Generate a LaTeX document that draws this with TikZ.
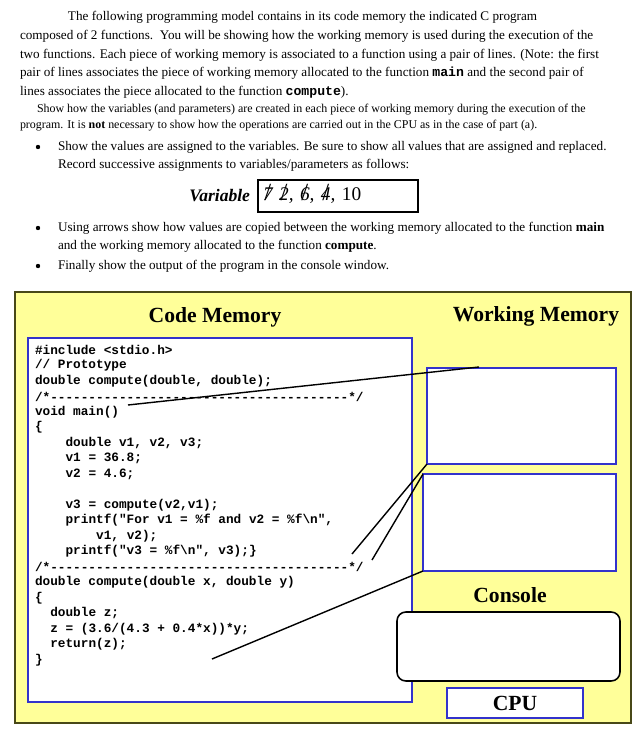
\documentclass[tikz,border=0pt]{standalone}
\usepackage{fontspec}
\setmainfont{Liberation Serif}
\setmonofont{Liberation Mono}
\usepackage{tikz}
\usetikzlibrary{positioning}
\definecolor{memyellow}{RGB}{255,255,153}
\definecolor{memblue}{RGB}{51,51,204}
\definecolor{boardedge}{RGB}{72,72,24}
\newcommand\crossout[1]{\ooalign{#1\cr\hidewidth{\fontsize{14}{14}\selectfont\upshape/}\hidewidth}}

\begin{document}
\begin{tikzpicture}[x=0.02cm,y=-0.02cm,
    every node/.style={inner sep=0pt,outer sep=0pt},
    para/.style={anchor=west,font=\fontsize{7.5}{9}\selectfont},
    smallpara/.style={anchor=west,font=\fontsize{6.8}{8}\selectfont},
    codeline/.style={anchor=west,font=\fontsize{7.25}{8}\selectfont\ttfamily\bfseries},
    memtitle/.style={font=\fontsize{12.3}{14}\selectfont\bfseries},
    membox/.style={draw=memblue,line width=1.1pt,fill=white},
    link/.style={line width=0.8pt}]
  \useasboundingbox (0,0) rectangle (642,731);
  % the question text
  \node[para] (p1) at (68,17) {The following programming model contains in its code memory the indicated C program};
  \node[para] (p2) at (20,36) {composed of 2 functions.\ \ You will be showing how the working memory is used during the execution of the};
  \node[para] (p3) at (20,55) {two functions. Each piece of working memory is associated to a function using a pair of lines. (Note: the first};
  \node[para] (p4) at (20,73) {pair of lines associates the piece of working memory allocated to the function \texttt{\bfseries main} and the second pair of};
  \node[para] (p5) at (20,92) {lines associates the piece allocated to the function \texttt{\bfseries compute}).};
  \node[smallpara] (q1) at (37,110) {Show how the variables (and parameters) are created in each piece of working memory during the execution of the};
  \node[smallpara] (q2) at (20,126) {program. It is \textbf{not} necessary to show how the operations are carried out in the CPU as in the case of part (a).};
  % bullets
  \foreach \y in {147,228,266}
    \fill (38,\y) circle (2.2);
  \node[para] (b1) at (58,147) {Show the values are assigned to the variables. Be sure to show all values that are assigned and replaced.};
  \node[para] (b1b) at (58,165) {Record successive assignments to variables/parameters as follows:};
  \node[anchor=east,font=\fontsize{10}{12}\selectfont\bfseries\itshape] (varlabel) at (250,196) {Variable};
  \node[draw,line width=0.7pt,anchor=west,minimum width=3.2cm,minimum height=0.64cm,
        text width=3cm,font=\fontsize{11}{13}\selectfont] (varbox) at (258,196)
        {\itshape\crossout{7} \crossout{2}, \crossout{6}, \crossout{4}, \upshape 10};
  \node[para] (b2) at (58,228) {Using arrows show how values are copied between the working memory allocated to the function \textbf{main}};
  \node[para] (b2b) at (58,246) {and the working memory allocated to the function \textbf{compute}.};
  \node[para] (b3) at (58,266) {Finally show the output of the program in the console window.};
  % memory model
  \node[draw=boardedge,line width=1.4pt,fill=memyellow,minimum width=12.32cm,minimum height=8.62cm] (board) at (323,507.5) {};
  \node[membox,minimum width=7.68cm,minimum height=7.28cm] (codemem) at (220,520) {};
  \node[memtitle] (codetitle) at (215,317) {Code Memory};
  \node[memtitle] (wmtitle) at (536,316) {Working Memory};
  \node[membox,minimum width=3.78cm,minimum height=1.92cm] (wm1) at (521.5,416) {};
  \node[membox,minimum width=3.86cm,minimum height=1.94cm] (wm2) at (519.5,522.5) {};
  \node[memtitle] (consoletitle) at (510,595) {Console};
  \node[draw,line width=0.9pt,fill=white,rounded corners=5pt,minimum width=4.46cm,minimum height=1.38cm] (console) at (508.5,646.5) {};
  \node[membox,memtitle,minimum width=2.72cm,minimum height=0.6cm] (cpu) at (515,703) {CPU};
  % program text
  \foreach \k/\ind/\txt in {
      1/0/{\#include <stdio.h>},
      2/0/{// Prototype},
      3/0/{double compute(double, double);},
      4/0/{/*---------------------------------------*/},
      5/0/{void main()},
      6/0/{\{},
      7/4/{double v1, v2, v3;},
      8/4/{v1 = 36.8;},
      9/4/{v2 = 4.6;},
      11/4/{v3 = compute(v2,v1);},
      12/4/{printf("For v1 = \%f and v2 = \%f\textbackslash n",},
      13/8/{v1, v2);},
      14/4/{printf("v3 = \%f\textbackslash n", v3);\}},
      15/0/{/*---------------------------------------*/},
      16/0/{double compute(double x, double y)},
      17/0/{\{},
      18/2/{double z;},
      19/2/{z = (3.6/(4.3 + 0.4*x))*y;},
      20/2/{return(z);},
      21/0/{\}}}
    \node[codeline] (code\k) at (35+\ind*7.65,334.5+15.5*\k) {\txt};
  % lines that tie each function to its piece of working memory
  \coordinate (mainhook) at (479,367);
  \coordinate (mainend) at (128,405);
  \coordinate (cmpA) at (352,554);
  \coordinate (cmpB) at (372,560);
  \coordinate (cmpC) at (212,659);
  \draw[link] (mainhook) -- (mainend);
  \draw[link] (wm1.south west) -- (cmpA);
  \draw[link] (wm2.north west) -- (cmpB);
  \draw[link] (wm2.south west) -- (cmpC);
\end{tikzpicture}
\end{document}
